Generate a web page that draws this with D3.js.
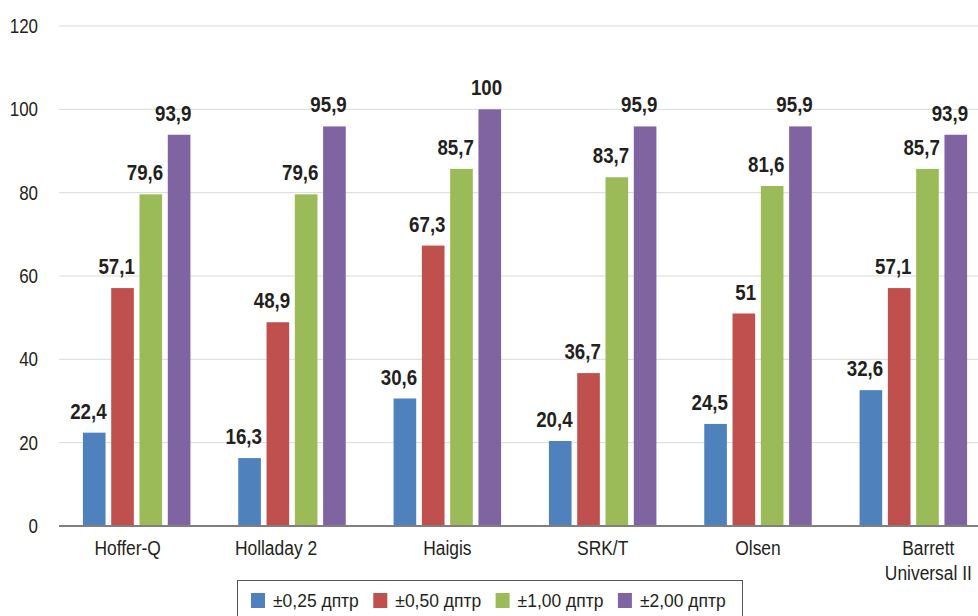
<!DOCTYPE html>
<html>
<head>
<meta charset="utf-8">
<title>Formulas</title>
<script src="https://cdn.jsdelivr.net/npm/d3@7"></script>
<style>
  body { margin: 0; background: #fff; }
  svg { display: block; font-family: "Liberation Sans", Arial, sans-serif; }
</style>
</head>
<body>
<div id="chart"></div>
<script>
var width = 978, height = 616;

// data
var formulas = ["Hoffer-Q", "Holladay 2", "Haigis", "SRK/T", "Olsen", "Barrett Universal II"];
var seriesNames = ["±0,25 дптр", "±0,50 дптр", "±1,00 дптр", "±2,00 дптр"];
var within025 = [22.4, 16.3, 30.6, 20.4, 24.5, 32.6];
var within050 = [57.1, 48.9, 67.3, 36.7, 51, 57.1];
var within100 = [79.6, 79.6, 85.7, 83.7, 81.6, 85.7];
var within200 = [93.9, 95.9, 100, 95.9, 95.9, 93.9];
var yTicks = [0, 20, 40, 60, 80, 100, 120];
var colors = ["#4F81BD", "#C0504D", "#9BBB59", "#8064A2"];

var seriesValues = [within025, within050, within100, within200];
var narrow = 0.87; // the original uses a condensed face

var svg = d3.select("#chart").append("svg")
  .attr("width", width)
  .attr("height", height);

var x0 = d3.scaleBand().domain(formulas).range([59, 991]).padding(0);
var groupW = 107.5;
var x1 = d3.scaleBand().domain(seriesNames).range([0, groupW]).paddingInner(0.2).paddingOuter(0);
var y = d3.scaleLinear().domain([0, 120]).range([526, 26]);

function place(x, yy) { return "translate(" + x + "," + yy + ") scale(" + narrow + ",1)"; }

// gridlines
svg.append("g").selectAll("line").data(yTicks.slice(1)).enter().append("line")
  .attr("x1", 59).attr("x2", width)
  .attr("y1", function(d) { return y(d); })
  .attr("y2", function(d) { return y(d); })
  .attr("stroke", "#d9d9d9").attr("stroke-width", 1);

// y labels
svg.append("g").selectAll("text").data(yTicks).enter().append("text")
  .attr("transform", function(d) { return place(38, y(d)); })
  .attr("dy", "0.36em")
  .attr("text-anchor", "end")
  .attr("font-size", 19.5)
  .attr("fill", "#231f20")
  .text(function(d) { return d; });

// bars
var groups = svg.append("g").selectAll("g").data(formulas).enter().append("g")
  .attr("transform", function(d) {
    return "translate(" + (x0(d) + (x0.bandwidth() - groupW) / 2) + ",0)";
  });

groups.selectAll("rect").data(function(d, i) {
    return seriesNames.map(function(s, j) { return { s: s, v: seriesValues[j][i], c: colors[j] }; });
  }).enter().append("rect")
  .attr("x", function(d) { return x1(d.s); })
  .attr("y", function(d) { return y(d.v); })
  .attr("width", x1.bandwidth())
  .attr("height", function(d) { return y(0) - y(d.v); })
  .attr("fill", function(d) { return d.c; });

groups.selectAll("text").data(function(d, i) {
    return seriesNames.map(function(s, j) { return { s: s, v: seriesValues[j][i] }; });
  }).enter().append("text")
  .attr("transform", function(d) { return place(x1(d.s) + x1.bandwidth() + 1, y(d.v) - 14); })
  .attr("text-anchor", "end")
  .attr("font-size", 21.5)
  .attr("font-weight", "bold")
  .attr("fill", "#231f20")
  .text(function(d) { return String(d.v).replace(".", ","); });

// baseline
svg.append("line")
  .attr("x1", 59).attr("x2", width)
  .attr("y1", y(0)).attr("y2", y(0))
  .attr("stroke", "#7f7f7f").attr("stroke-width", 2);

// category labels (a few sit off-centre in the original)
var nudge = { "Hoffer-Q": -9, "Holladay 2": -16, "Barrett Universal II": 15 };
var xAxis = svg.append("g").selectAll("text").data(formulas).enter().append("text")
  .attr("transform", function(d) { return place(x0(d) + x0.bandwidth() / 2 + (nudge[d] || 0), 555); })
  .attr("text-anchor", "middle")
  .attr("font-size", 20)
  .attr("fill", "#231f20");
xAxis.each(function(d) {
  var el = d3.select(this);
  var parts = d === "Barrett Universal II" ? ["Barrett", "Universal II"] : [d];
  parts.forEach(function(p, k) {
    el.append("tspan").attr("x", 0).attr("dy", k === 0 ? 0 : 25).text(p);
  });
});

// legend
var legend = svg.append("g");
legend.append("rect")
  .attr("x", 237.5).attr("y", 580.5)
  .attr("width", 505).attr("height", 50)
  .attr("fill", "none").attr("stroke", "#555").attr("stroke-width", 1);

var items = legend.selectAll("g").data(seriesNames).enter().append("g")
  .attr("transform", function(d, i) { return "translate(" + (251 + i * 122.3) + ",593)"; });
items.append("rect")
  .attr("width", 14).attr("height", 15)
  .attr("fill", function(d, i) { return colors[i]; });
items.append("text")
  .attr("transform", "translate(22,14) scale(0.92,1)")
  .attr("font-size", 19)
  .attr("fill", "#231f20")
  .text(function(d) { return d; });
</script>
</body>
</html>
